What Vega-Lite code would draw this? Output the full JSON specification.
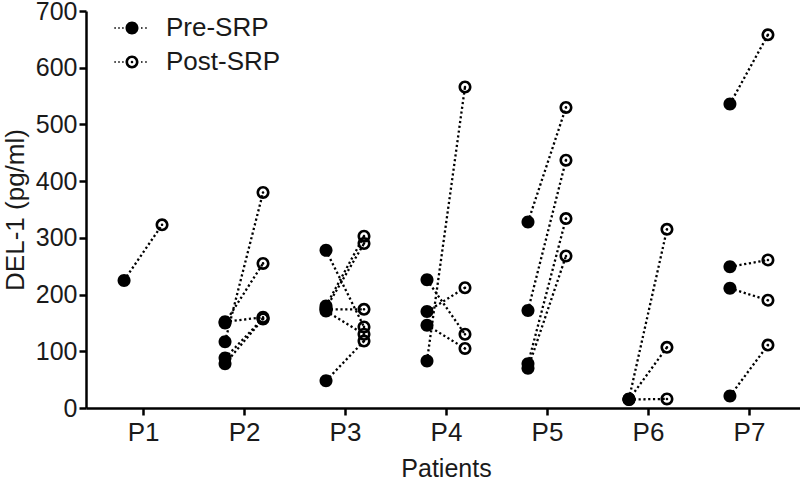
{
  "$schema": "https://vega.github.io/schema/vega-lite/v6.json",
  "width": 720,
  "height": 397,
  "autosize": {"type": "none"},
  "padding": {"left": 86, "top": 11, "right": 0, "bottom": 78},
  "background": "white",
  "config": {
    "view": {"stroke": null},
    "font": "Liberation Sans",
    "axis": {
      "domainColor": "black",
      "domainWidth": 2.5,
      "tickColor": "black",
      "tickWidth": 2.5,
      "tickSize": 7,
      "grid": false,
      "labelColor": "#1a1a1a",
      "titleColor": "#1a1a1a",
      "labelFont": "Liberation Sans",
      "titleFont": "Liberation Sans",
      "titleFontWeight": "normal"
    }
  },
  "data": {
    "values": [
      {"patient": "P1", "pre": 225, "post": 323},
      {"patient": "P2", "pre": 152, "post": 160},
      {"patient": "P2", "pre": 150, "post": 255},
      {"patient": "P2", "pre": 117, "post": 380},
      {"patient": "P2", "pre": 88, "post": 158},
      {"patient": "P2", "pre": 78, "post": 157},
      {"patient": "P3", "pre": 278, "post": 143},
      {"patient": "P3", "pre": 180, "post": 303},
      {"patient": "P3", "pre": 176, "post": 290},
      {"patient": "P3", "pre": 174, "post": 174},
      {"patient": "P3", "pre": 171, "post": 130},
      {"patient": "P3", "pre": 48, "post": 118},
      {"patient": "P4", "pre": 226, "post": 130},
      {"patient": "P4", "pre": 170, "post": 212},
      {"patient": "P4", "pre": 146, "post": 105},
      {"patient": "P4", "pre": 83, "post": 566},
      {"patient": "P5", "pre": 328, "post": 530},
      {"patient": "P5", "pre": 172, "post": 437},
      {"patient": "P5", "pre": 78, "post": 334},
      {"patient": "P5", "pre": 70, "post": 268},
      {"patient": "P6", "pre": 16, "post": 315},
      {"patient": "P6", "pre": 15, "post": 107},
      {"patient": "P6", "pre": 15, "post": 16},
      {"patient": "P7", "pre": 536, "post": 658},
      {"patient": "P7", "pre": 249, "post": 261},
      {"patient": "P7", "pre": 211, "post": 190},
      {"patient": "P7", "pre": 21, "post": 111}
    ]
  },
  "encoding": {
    "x": {
      "field": "patient",
      "type": "nominal",
      "scale": {"type": "point", "padding": 0.565},
      "axis": {
        "title": "Patients",
        "labelAngle": 0,
        "labelFontSize": 26,
        "titleFontSize": 25,
        "labelPadding": 4,
        "titlePadding": 11
      }
    }
  },
  "layer": [
    {
      "mark": {
        "type": "rule",
        "xOffset": -19,
        "x2Offset": 19,
        "strokeDash": [2.2, 2.6],
        "strokeWidth": 2.3,
        "color": "black"
      },
      "encoding": {
        "x2": {"field": "patient"},
        "y": {
          "field": "pre",
          "type": "quantitative",
          "scale": {"domain": [0, 700]},
          "axis": {
            "title": "DEL-1 (pg/ml)",
            "values": [0, 100, 200, 300, 400, 500, 600, 700],
            "labelFontSize": 25,
            "titleFontSize": 26,
            "labelPadding": 2,
            "titlePadding": 7
          }
        },
        "y2": {"field": "post"}
      }
    },
    {
      "transform": [{"filter": "false"}],
      "mark": {"type": "point", "filled": true, "color": "black", "opacity": 1, "size": 169},
      "encoding": {
        "y": {"field": "pre", "type": "quantitative"},
        "shape": {
          "datum": "Pre-SRP",
          "type": "nominal",
          "scale": {
            "domain": ["Pre-SRP", "Post-SRP"],
            "range": [
              "M-1,0A1,1,0,1,0,1,0A1,1,0,1,0,-1,0ZM-2.72,-0.12H-2.48V0.12H-2.72ZM-2.12,-0.12H-1.88V0.12H-2.12ZM-1.52,-0.12H-1.28V0.12H-1.52ZM1.38,-0.12H1.62V0.12H1.38ZM2.03,-0.12H2.27V0.12H2.03Z",
              "M-1,0A1,1,0,1,0,1,0A1,1,0,1,0,-1,0ZM-0.6,0A0.6,0.6,0,1,1,0.6,0A0.6,0.6,0,1,1,-0.6,0ZM-0.2,0A0.2,0.2,0,1,0,0.2,0A0.2,0.2,0,1,0,-0.2,0ZM-2.72,-0.12H-2.48V0.12H-2.72ZM-2.12,-0.12H-1.88V0.12H-2.12ZM-1.52,-0.12H-1.28V0.12H-1.52ZM1.38,-0.12H1.62V0.12H1.38ZM2.03,-0.12H2.27V0.12H2.03Z"
            ]
          },
          "legend": {
            "title": null,
            "orient": "none",
            "legendX": 33,
            "legendY": 4,
            "padding": 0,
            "symbolSize": 169,
            "symbolOpacity": 1,
            "symbolFillColor": "black",
            "symbolStrokeWidth": 0,
            "labelFontSize": 26,
            "labelFont": "Liberation Sans",
            "labelColor": "#1a1a1a",
            "labelOffset": 21,
            "rowPadding": 8
          }
        }
      }
    },
    {
      "mark": {
        "type": "point",
        "xOffset": -19,
        "filled": true,
        "fill": "black",
        "strokeWidth": 0,
        "size": 169,
        "opacity": 1,
        "shape": "M-1,0A1,1,0,1,0,1,0A1,1,0,1,0,-1,0Z"
      },
      "encoding": {
        "y": {"field": "pre", "type": "quantitative"}
      }
    },
    {
      "mark": {
        "type": "point",
        "xOffset": 19,
        "filled": true,
        "fill": "black",
        "strokeWidth": 0,
        "size": 169,
        "opacity": 1,
        "shape": "M-1,0A1,1,0,1,0,1,0A1,1,0,1,0,-1,0ZM-0.6,0A0.6,0.6,0,1,1,0.6,0A0.6,0.6,0,1,1,-0.6,0ZM-0.2,0A0.2,0.2,0,1,0,0.2,0A0.2,0.2,0,1,0,-0.2,0Z"
      },
      "encoding": {
        "y": {"field": "post", "type": "quantitative"}
      }
    }
  ]
}
